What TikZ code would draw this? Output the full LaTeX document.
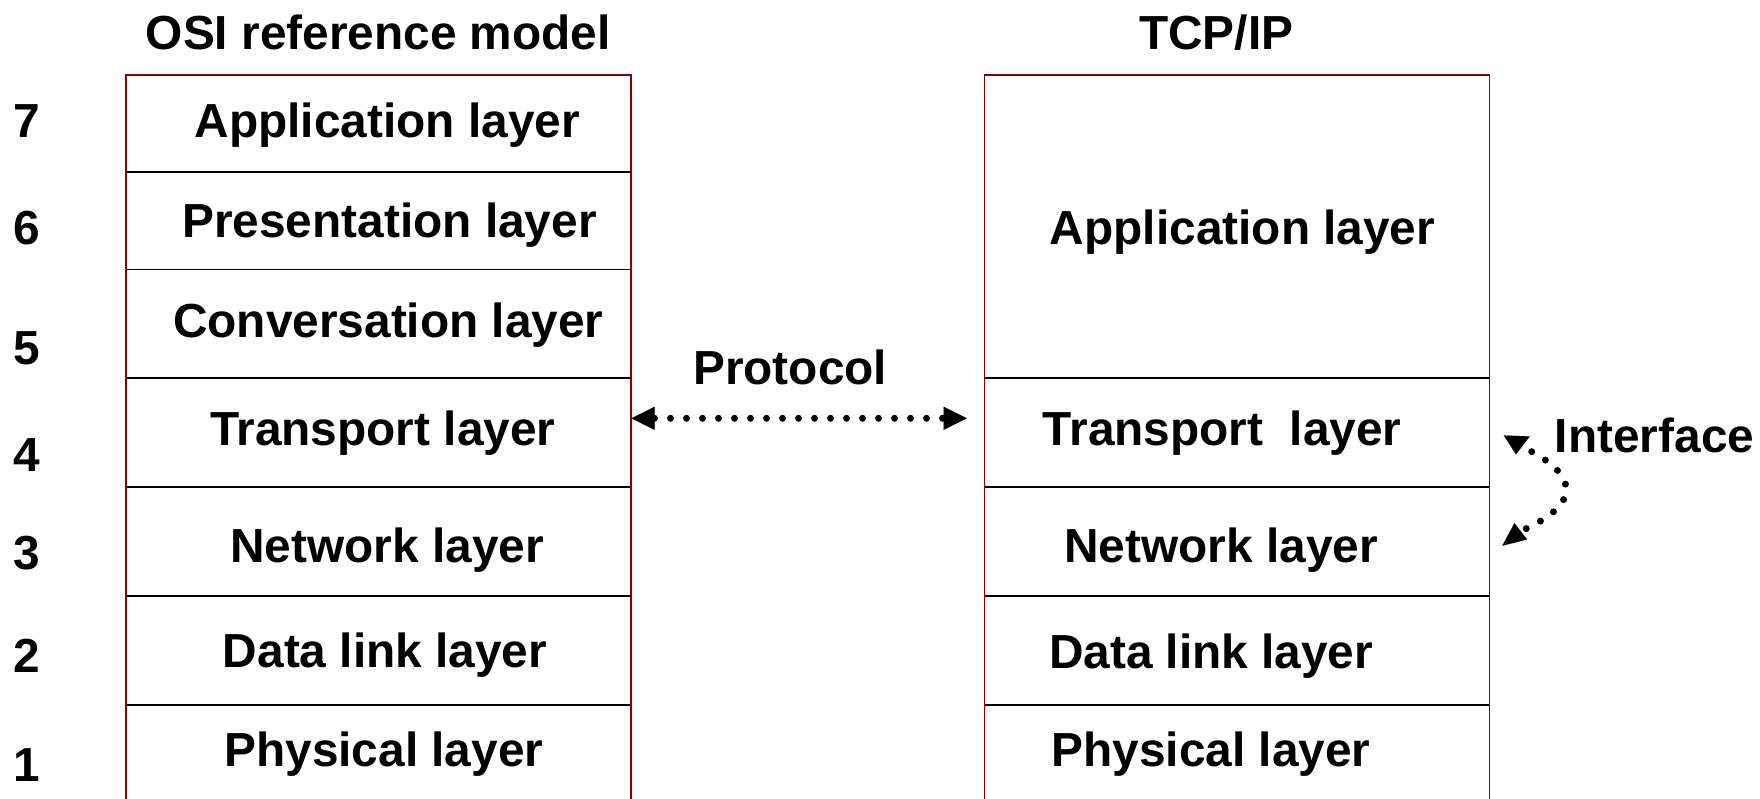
\documentclass[tikz,border=0pt]{standalone}
\usepackage{fontspec}
\setmainfont{Liberation Sans}
\usetikzlibrary{arrows.meta}
\definecolor{boxred}{RGB}{140,0,0}
\begin{document}
\begin{tikzpicture}[x=0.5pt,y=-0.5pt,
  lbl/.style={font=\bfseries\fontsize{23.9pt}{28pt}\selectfont, inner sep=0pt, anchor=base},
  divider/.style={line width=0.9pt, draw=black},
  frame/.style={line width=0.9pt, draw=boxred},
  dotline/.style={line width=3.5pt, line cap=round, dash pattern=on 0pt off 8pt},
]
\useasboundingbox (0,0) rectangle (1760,798);
\fill[white] (0,0) rectangle (1760,798);

% ---------- left stack (OSI) ----------
\foreach \yy in {171.7,269.4,378.3,487.1,596.0,704.9}
  \draw[divider] (125.7,\yy) -- (630.8,\yy);
\draw[frame] (125.7,820) -- (125.7,75.2) -- (630.8,75.2) -- (630.8,820);

% ---------- right stack (TCP/IP) ----------
\foreach \yy in {378.3,487.1,596.0,704.9}
  \draw[divider] (984.4,\yy) -- (1489.5,\yy);
\draw[frame] (984.4,820) -- (984.4,75.2) -- (1489.5,75.2) -- (1489.5,820);

% ---------- titles ----------
\node[lbl] (osititle) at (378.3,49.1) {OSI reference model};
\node[lbl] (tcptitle) at (1216.2,49.1) {TCP/IP};

% ---------- numbers ----------
\node[lbl] (n7) at (26.9,137.8) {7};
\node[lbl] (n6) at (26.9,244.4) {6};
\node[lbl] (n5) at (26.9,364.5) {5};
\node[lbl] (n4) at (26.9,471.2) {4};
\node[lbl] (n3) at (26.9,569.9) {3};
\node[lbl] (n2) at (26.9,672.1) {2};
\node[lbl] (n1) at (26.9,781.0) {1};

% ---------- OSI labels ----------
\node[lbl] (oapp)  at (387.2,137.8) {Application layer};
\node[lbl] (opres) at (389.5,237.7) {Presentation layer};
\node[lbl] (oconv) at (388.4,337.6) {Conversation layer};
\node[lbl] (otran) at (382.7,445.4) {Transport layer};
\node[lbl] (onet)  at (387.2,562.1) {Network layer};
\node[lbl] (odata) at (385.0,667.6) {Data link layer};
\node[lbl] (ophys) at (383.9,766.4) {Physical layer};

% ---------- TCP/IP labels ----------
\node[lbl] (tapp)  at (1242.5,244.4) {Application layer};
\node[lbl] (ttran) at (1222.3,445.4) {Transport\ \ layer};
\node[lbl] (tnet)  at (1221.2,562.1) {Network layer};
\node[lbl] (tdata) at (1211.1,668.7) {Data link layer};
\node[lbl] (tphys) at (1211.1,766.4) {Physical layer};

% ---------- protocol arrow ----------
\node[lbl] (proto) at (790.2,384.7) {Protocol};
\coordinate (pL) at (631.5,418.3);
\coordinate (pR) at (966.7,418.3);
\draw[dotline, {Triangle[length=11.5pt,width=11.5pt,line width=0.01pt]}-{Triangle[length=11.5pt,width=11.5pt,line width=0.01pt]}] (pL) -- (pR);

% ---------- interface arrow ----------
\node[lbl, anchor=base west] (iface) at (1554.5,452.1) {Interface};
\coordinate (iS) at (1531.7,451.7);
\coordinate (iE) at (1523.3,530.0);
\draw[dotline] (iS) .. controls (1580,478) and (1578,505) .. (iE);
\coordinate (tTopBase) at (1516.7,436.0);
\coordinate (tTopTip)  at (1516.0,454.3);
\coordinate (tBotBase) at (1520.8,531.3);
\coordinate (tBotTip)  at (1502.3,545.7);
\draw[line width=0.01pt, -{Triangle[length=9.2pt,width=13pt,line width=0.01pt]}] (tTopBase) -- (tTopTip);
\draw[line width=0.01pt, -{Triangle[length=11.7pt,width=10.3pt,line width=0.01pt]}] (tBotBase) -- (tBotTip);
\end{tikzpicture}
\end{document}
